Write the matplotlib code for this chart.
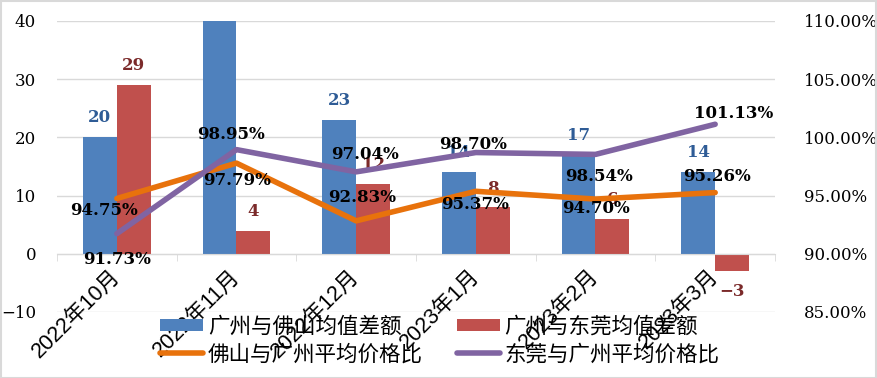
import matplotlib.pyplot as plt
import numpy as np
from matplotlib.patches import Rectangle

months = ['2022年10月', '2022年11月', '2022年12月', '2023年1月', '2023年2月', '2023年3月']
gz_fs_diff = [20, 40, 23, 14, 17, 14]
gz_dg_diff = [29, 4, 12, 8, 6, -3]
fs_ratio = [94.75, 97.79, 92.83, 95.37, 94.70, 95.26]
dg_ratio = [91.73, 98.95, 97.04, 98.70, 98.54, 101.13]

names = ['广州与佛山均值差额', '广州与东莞均值差额', '佛山与广州平均价格比', '东莞与广州平均价格比']

c_blue = '#4F81BD'
c_red = '#C0504D'
c_orange = '#E8720C'
c_purple = '#8064A2'

serif = ['DejaVu Serif', 'Noto Sans CJK SC']
sans = ['Liberation Sans', 'Noto Sans CJK SC']

# label offsets in pixels (dx, dy) for the line labels
fs_off = [(-13, -12), (1, -17), (6, 23), (-1, -13), (1, -9), (2, 16)]
dg_off = [(0, -26), (-5, 15), (9, 17), (-3, 8), (4, -22), (18, 11)]

fig = plt.figure(figsize=(8.77, 3.78), dpi=100)
ax = fig.add_axes([57 / 877, 1 - 312 / 378, (775 - 57) / 877, (312 - 21) / 378])
ax2 = ax.twinx()

x = np.arange(len(months))
w = 0.284
b1 = ax.bar(x - w / 2, gz_fs_diff, w, color=c_blue, label=names[0], zorder=2)
b2 = ax.bar(x + w / 2, gz_dg_diff, w, color=c_red, label=names[1], zorder=2)

ax.set_xlim(-0.5, len(months) - 0.5)
ax.set_ylim(-10, 40)
ax.set_yticks(range(-10, 41, 10))
ax.yaxis.grid(True, color='#D9D9D9', linewidth=1, zorder=0)
ax.set_axisbelow(True)
for s in ['top', 'right', 'left']:
    ax.spines[s].set_visible(False)
ax.spines['bottom'].set_position(('data', 0))
ax.spines['bottom'].set_color('#D9D9D9')
ax.tick_params(axis='y', length=0, pad=15)
ax.set_yticklabels([str(v).replace('-', '\u2212') for v in range(-10, 41, 10)],
                   family=serif, fontsize=12)

ax.set_xticks(x)
ax.set_xticks(np.arange(-0.5, len(months), 1), minor=True)
ax.tick_params(axis='x', which='major', length=0, pad=14)
ax.tick_params(axis='x', which='minor', length=5, color='#D9D9D9', direction='out')
ax.set_xticklabels(months, rotation=45, ha='right', va='center',
                   rotation_mode='anchor', fontsize=15.5, family=sans)

for xi, v in zip(x, gz_fs_diff):
    ax.annotate(str(v), (xi - w / 2, min(v + 3.4, 40.7)), ha='center', va='center',
                color='#2F5C96', fontsize=12, fontweight='bold', family=serif, zorder=3)
for xi, v in zip(x, gz_dg_diff):
    yy = v + 3.3 if v >= 0 else v - 3.4
    txt = str(v).replace('-', '\u2212')
    ax.annotate(txt, (xi + w / 2, yy), ha='center', va='center',
                color='#7B2A2A', fontsize=12, fontweight='bold', family=serif, zorder=3)

l1, = ax2.plot(x, fs_ratio, color=c_orange, linewidth=4, label=names[2], solid_capstyle='round')
l2, = ax2.plot(x, dg_ratio, color=c_purple, linewidth=4, label=names[3], solid_capstyle='round')
ax2.set_ylim(85, 110)
ax2.set_yticks(range(85, 111, 5))
ax2.set_yticklabels([f'{v:.2f}%' for v in range(85, 111, 5)], family=serif, fontsize=12)
ax2.tick_params(axis='y', length=0, pad=21)
for s in ax2.spines.values():
    s.set_visible(False)

for xi, v, (dx, dy) in zip(x, fs_ratio, fs_off):
    ax2.annotate(f'{v:.2f}%', (xi, v), xytext=(dx, dy), textcoords='offset pixels',
                 ha='center', va='center', fontsize=12, fontweight='bold', family=serif)
for xi, v, (dx, dy) in zip(x, dg_ratio, dg_off):
    ax2.annotate(f'{v:.2f}%', (xi, v), xytext=(dx, dy), textcoords='offset pixels',
                 ha='center', va='center', fontsize=12, fontweight='bold', family=serif)

fig.legend([b1, l1, b2, l2], [names[0], names[2], names[1], names[3]], loc='center',
           bbox_to_anchor=(440 / 877, 1 - 341 / 378),
           ncol=2, frameon=False, prop={'family': sans, 'size': 15.5},
           handlelength=2.0, handleheight=0.5, handletextpad=0.2, columnspacing=1.6,
           labelspacing=0.3, borderpad=0)

fig.patches.append(Rectangle((0.001, 0.001), 0.998, 0.997, transform=fig.transFigure,
                             fill=False, edgecolor='#D9D9D9', linewidth=1.5))

fig.savefig('out.png', dpi=100)
